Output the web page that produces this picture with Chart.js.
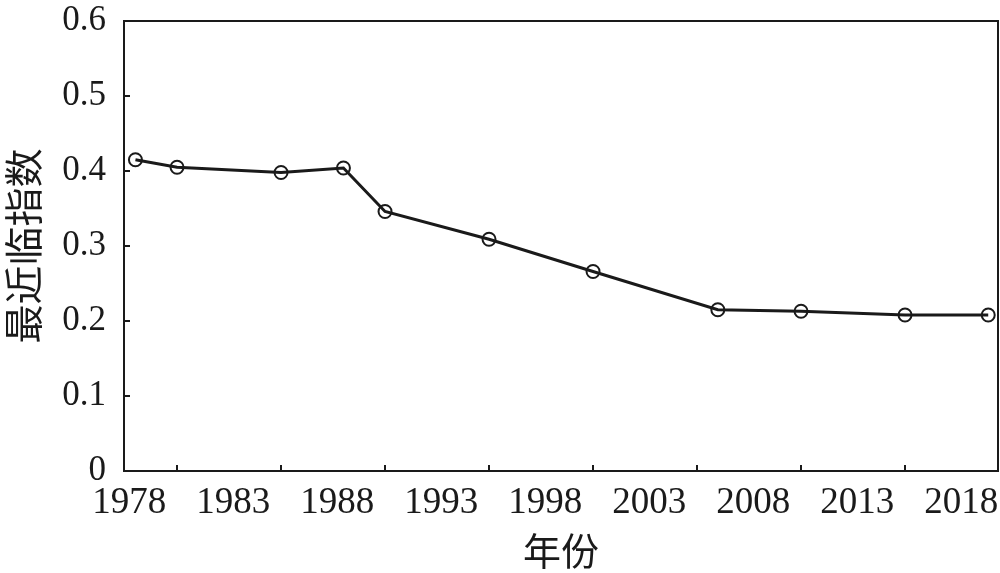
<!DOCTYPE html>
<html>
<head>
<meta charset="utf-8">
<script src="https://cdn.jsdelivr.net/npm/chart.js@4.4.1/dist/chart.umd.min.js"></script>
<style>
  body { margin: 0; background: #ffffff; }
</style>
</head>
<body>
<canvas id="nearChart" width="1000" height="573"></canvas>
<script>
// survey years and the index
const years = [1978, 1980, 1985, 1988, 1990, 1995, 2000, 2006, 2010, 2015, 2019];
const nearIndex = [0.415, 0.405, 0.398, 0.404, 0.346, 0.309, 0.266, 0.215, 0.213, 0.208, 0.208];

// tick marks and the year labels (labels sit between the marks)
const tickYears = [1980, 1985, 1990, 1995, 2000, 2005, 2010, 2015];
const labelYears = [1978, 1983, 1988, 1993, 1998, 2003, 2008, 2013, 2018];
const yTicks = [0, 0.1, 0.2, 0.3, 0.4, 0.5, 0.6];

const ink = '#1a1a1a';
const xMin = 1977.45, xMax = 2019.47;

const points = years.map((yr, i) => ({ x: yr, y: nearIndex[i] }));

// keep label overflow from shrinking the plot area
const noPad = (s) => { s.paddingTop = 0; s.paddingBottom = 0; s.paddingLeft = 0; s.paddingRight = 0; };

new Chart(document.getElementById('nearChart').getContext('2d'), {
    type: 'line',
    data: {
        datasets: [{
            data: points,
            borderColor: ink,
            borderWidth: 3,
            tension: 0,
            clip: false,
            pointStyle: 'circle',
            pointRadius: 6.5,
            pointBorderWidth: 2,
            pointBorderColor: ink,
            pointBackgroundColor: 'rgba(0,0,0,0)',
            xAxisID: 'x',
            yAxisID: 'y'
        }]
    },
    options: {
        responsive: false,
        animation: false,
        layout: { autoPadding: false, padding: { top: 21, right: 2, left: 0, bottom: 0 } },
        plugins: { legend: { display: false }, tooltip: { enabled: false } },
        scales: {
            x: {
                type: 'linear',
                position: 'bottom',
                weight: 0,
                min: xMin,
                max: xMax,
                afterBuildTicks: (s) => { s.ticks = tickYears.map(v => ({ value: v })); },
                afterFit: (s) => { s.height = 0; noPad(s); },
                ticks: { display: false },
                grid: { drawOnChartArea: false, drawTicks: true, tickLength: -6, color: ink, lineWidth: 2 },
                border: { display: true, color: ink, width: 2 }
            },
            xLabels: {
                type: 'linear',
                position: 'bottom',
                weight: 1,
                min: xMin,
                max: xMax,
                afterBuildTicks: (s) => { s.ticks = labelYears.map(v => ({ value: v - 0.3 })); },
                afterFit: (s) => { s.height = 102; noPad(s); },
                grid: { display: false, drawTicks: false },
                border: { display: false },
                ticks: {
                    autoSkip: false,
                    maxRotation: 0,
                    padding: 10,
                    color: ink,
                    font: { family: 'Liberation Serif', size: 37 },
                    callback: (v, i) => String(labelYears[i])
                },
                title: {
                    display: true,
                    text: '年份',
                    color: ink,
                    padding: 0,
                    font: { family: 'Noto Sans CJK SC', size: 38 }
                }
            },
            xTop: {
                type: 'linear',
                position: 'top',
                min: xMin,
                max: xMax,
                afterFit: (s) => { s.height = 0; noPad(s); },
                ticks: { display: false },
                grid: { drawOnChartArea: false, drawTicks: false },
                border: { display: true, color: ink, width: 2 }
            },
            y: {
                type: 'linear',
                position: 'left',
                min: 0,
                max: 0.6,
                afterBuildTicks: (s) => { s.ticks = yTicks.map(v => ({ value: v })); },
                afterFit: (s) => { s.width = 124; noPad(s); },
                ticks: {
                    padding: 24,
                    color: ink,
                    font: { family: 'Liberation Serif', size: 35 },
                    callback: (v) => String(v)
                },
                grid: { drawOnChartArea: false, drawTicks: true, tickLength: -6, color: ink, lineWidth: 2 },
                border: { display: true, color: ink, width: 2 },
                title: {
                    display: true,
                    text: '最近临指数',
                    color: ink,
                    padding: 0,
                    font: { family: 'Noto Sans CJK SC', size: 39 }
                }
            },
            yRight: {
                type: 'linear',
                position: 'right',
                min: 0,
                max: 0.6,
                afterFit: (s) => { s.width = 0; noPad(s); },
                ticks: { display: false },
                grid: { drawOnChartArea: false, drawTicks: false },
                border: { display: true, color: ink, width: 2 }
            }
        }
    }
});
</script>
</body>
</html>
